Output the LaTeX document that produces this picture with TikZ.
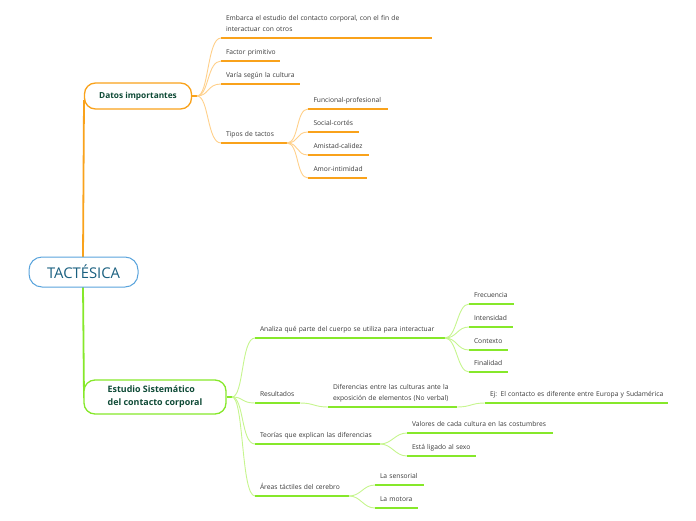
\documentclass[tikz,border=0pt]{standalone}
\usepackage{fontspec}
\setmainfont{Open Sans}
\definecolor{orgline}{HTML}{F9A21B}
\definecolor{orgconn}{HTML}{FFD08A}
\definecolor{grnline}{HTML}{86E82A}
\definecolor{grnconn}{HTML}{C6F58E}
\definecolor{rootblue}{HTML}{5AA4DC}
\definecolor{roottext}{HTML}{1A6080}
\definecolor{boxtext}{HTML}{0E4A36}
\definecolor{leaftext}{HTML}{3A3A3A}
\tikzset{
  rootbox/.style={draw=rootblue, line width=1pt, fill=white, rounded corners=13pt,
    minimum width=109pt, minimum height=30pt, inner sep=0pt,
    font=\fontsize{14.8}{16}\selectfont, text=roottext},
  mainbox/.style={draw=#1, line width=1.3pt, fill=white, rounded corners=11pt, inner sep=0pt,
    font=\bfseries\fontsize{8.3}{13}\selectfont, text=boxtext, align=left},
  leaf/.style={anchor=south west, inner xsep=5pt, inner ysep=7pt, outer sep=0pt,
    text width=#1, align=left, text depth=0pt,
    font=\fontsize{6.7}{11}\selectfont, text=leaftext},
  leaftwo/.style={leaf=#1, text depth=11pt},
  ulo/.style={draw=orgline, line width=1.6pt},
  ulg/.style={draw=grnline, line width=1.6pt},
  trunko/.style={draw=orgline, line width=1.8pt},
  trunkg/.style={draw=grnline, line width=1.8pt},
  conno/.style={draw=orgconn, line width=0.9pt},
  conng/.style={draw=grnconn, line width=0.9pt},
}
\begin{document}
\begin{tikzpicture}[x=1pt,y=-1pt]
\useasboundingbox (0,0) rectangle (696,520);

% trunks
\coordinate (rt) at (83,258);
\coordinate (rb) at (83,286);
\coordinate (dl) at (84,100);
\coordinate (el) at (84,398);
\draw[trunko] (rt) -- (dl);
\draw[trunkg] (rb) -- (el);

% main nodes
\node[rootbox] (root) at (83.5,272) {TACTÉSICA};
\node[mainbox=orgline, minimum width=107pt, minimum height=26pt] (datos) at (138,96) {Datos importantes};
\node[mainbox=grnline, minimum width=142pt, minimum height=34pt, font=\bfseries\fontsize{8.9}{13}\selectfont] (estudio) at (155,397) {Estudio Sistemático\\del contacto corporal};

\coordinate (df) at (197,96);
\coordinate (ef) at (232,397);
\draw[ulo] (datos.east) -- (df);
\draw[ulg] (estudio.east) -- (ef);

% Datos children
\node[leaftwo=201pt] (e1) at (221,38) {Embarca el estudio del contacto corporal, con el fin de\\interactuar con otros};
\node[leaf=49pt] (e2) at (221,61) {\mbox{Factor primitivo}};
\node[leaf=69pt] (e3) at (221,84) {\mbox{Varía según la cultura}};
\node[leaf=56pt] (e4) at (221,143) {\mbox{Tipos de tactos}};

\node[leaf=69pt, inner xsep=5.5pt] (t1) at (308,109) {\mbox{Funcional-profesional}};
\node[leaf=40pt, inner xsep=5.5pt] (t2) at (308,132) {\mbox{Social-cortés}};
\node[leaf=50pt, inner xsep=5.5pt] (t3) at (308,155) {\mbox{Amistad-calidez}};
\node[leaf=48pt, inner xsep=5.5pt] (t4) at (308,178) {\mbox{Amor-intimidad}};

% Estudio children
\node[leaf=180pt] (s1) at (255,338) {\mbox{Analiza qué parte del cuerpo se utiliza para interactuar}};
\node[leaf=35pt] (s2) at (255,403) {\mbox{Resultados}};
\node[leaf=115pt] (s3) at (255,444) {\mbox{Teorías que explican las diferencias}};
\node[leaf=84pt] (s4) at (255,496) {\mbox{Áreas táctiles del cerebro}};

\node[leaf=35pt] (f1) at (469,304) {\mbox{Frecuencia}};
\node[leaf=34pt] (f2) at (469,327) {\mbox{Intensidad}};
\node[leaf=29pt] (f3) at (469,350) {\mbox{Contexto}};
\node[leaf=29pt] (f4) at (469,372) {\mbox{Finalidad}};

\node[leaftwo=119pt] (r1) at (328,407) {Diferencias entre las culturas ante la\\exposición de elementos (No verbal)};
\node[leaf=173pt] (r2) at (485,403) {\mbox{Ej: El contacto es diferente entre Europa y Sudamérica}};

\node[leaf=136pt] (v1) at (407,433) {\mbox{Valores de cada cultura en las costumbres}};
\node[leaf=59pt] (v2) at (407,456) {\mbox{Está ligado al sexo}};

\node[leaf=39pt] (a1) at (375,485) {\mbox{La sensorial}};
\node[leaf=33pt] (a2) at (375,508) {\mbox{La motora}};

% underlines
\foreach \n in {e1,e2,e3,e4,t1,t2,t3,t4}
  \draw[ulo] (\n.south west) -- (\n.south east);
\foreach \n in {s1,s2,s3,s4,f1,f2,f3,f4,r1,r2,v1,v2,a1,a2}
  \draw[ulg] (\n.south west) -- (\n.south east);

% connectors orange
\foreach \n in {e1,e2,e3,e4}
  \draw[conno] (df) .. controls +(12,0) and +(-14,0) .. (\n.south west);
\foreach \n in {t1,t2,t3,t4}
  \draw[conno] (e4.south east) .. controls +(12,0) and +(-12,0) .. (\n.south west);

% connectors green
\foreach \n in {s1,s2,s3,s4}
  \draw[conng] (ef) .. controls +(12,0) and +(-14,0) .. (\n.south west);
\foreach \n in {f1,f2,f3,f4}
  \draw[conng] (s1.south east) .. controls +(12,0) and +(-12,0) .. (\n.south west);
\draw[conng] (s2.south east) .. controls +(14,0) and +(-14,0) .. (r1.south west);
\draw[conng] (r1.south east) .. controls +(14,0) and +(-14,0) .. (r2.south west);
\foreach \n in {v1,v2}
  \draw[conng] (s3.south east) .. controls +(12,0) and +(-12,0) .. (\n.south west);
\foreach \n in {a1,a2}
  \draw[conng] (s4.south east) .. controls +(12,0) and +(-12,0) .. (\n.south west);
\end{tikzpicture}
\end{document}
